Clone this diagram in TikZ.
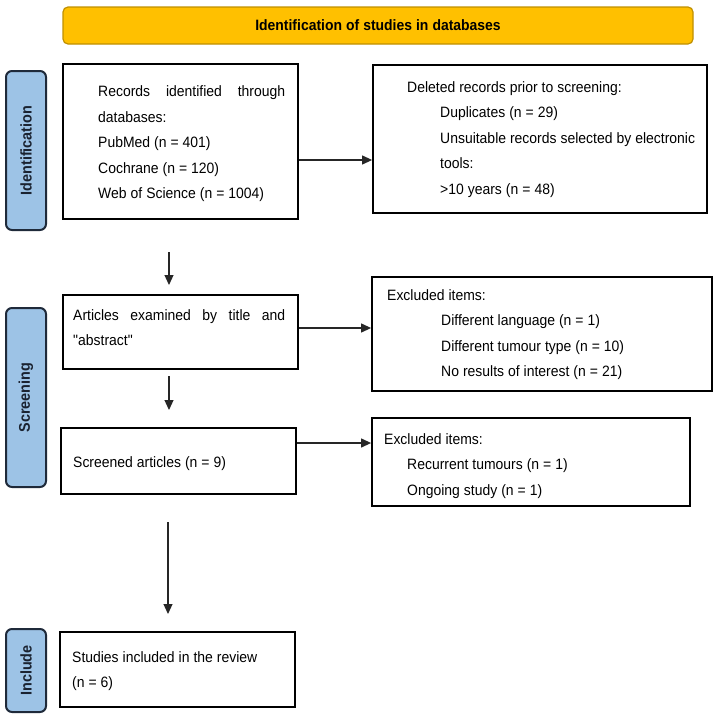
\documentclass[tikz,border=0pt]{standalone}
\usepackage{fontspec}
\setmainfont{Liberation Sans}[Ligatures=TeXOff,FakeStretch=0.93]
\usetikzlibrary{arrows.meta}
\definecolor{sideblue}{HTML}{9DC3E6}
\definecolor{sideedge}{HTML}{1F2A3A}
\definecolor{sidetext}{HTML}{1A2230}
\definecolor{banner}{HTML}{FFC000}
\definecolor{banneredge}{HTML}{C09000}
\newcommand\tsp{\spaceskip=4pt plus 1.5pt minus 0.5pt\relax}
\begin{document}
\begin{tikzpicture}[x=1pt,y=-1pt,
 box/.style={draw=black,line width=1.8pt,inner sep=0pt,fill=white},
 side/.style={draw=sideedge,fill=sideblue,line width=2pt,rounded corners=6pt,minimum width=40pt,inner sep=0pt},
 sidetxt/.style={rotate=90,inner sep=0pt,font=\fontsize{15.5}{18}\selectfont\bfseries,text=sidetext},
 tx/.style={anchor=base west,inner sep=0pt,align=left,font=\fontsize{15}{25.5}\selectfont,text width=#1},
 tx/.default=300pt,
 arr/.style={-{Triangle[length=10pt,width=9pt]},line width=1.2pt,draw=black!85}
]
\useasboundingbox (0,0) rectangle (718,720);
% banner
\node[draw=banneredge,fill=banner,line width=1.2pt,rounded corners=5pt,minimum width=630pt,minimum height=37pt,inner sep=0pt,font=\fontsize{15}{18}\selectfont\bfseries] (ban) at (378,25.5) {\tsp Identification of studies in databases};
% side labels
\node[side,minimum height=159pt] (sid) at (26,150.5) {};
\node[sidetxt] (sidt) at (sid) {Identification};
\node[side,minimum height=179pt] (sscr) at (26,397.5) {};
\node[sidetxt] (sscrt) at (sscr) {Screening};
\node[side,minimum height=83pt] (sinc) at (26,670.5) {};
\node[sidetxt] (sinct) at (sinc) {Include};
% boxes
\node[box,minimum width=235pt,minimum height=155pt] (b1) at (180.5,141.5) {};
\node[box,minimum width=334pt,minimum height=148pt] (b2) at (540,139) {};
\node[box,minimum width=235pt,minimum height=74pt] (b3) at (180.5,332) {};
\node[box,minimum width=340pt,minimum height=114pt] (b4) at (542,334) {};
\node[box,minimum width=235pt,minimum height=66pt] (b5) at (178.5,461) {};
\node[box,minimum width=318pt,minimum height=88pt] (b6) at (531,462) {};
\node[box,minimum width=235pt,minimum height=75pt] (b7) at (177.5,669.5) {};
% texts
\node[tx=200pt] (t1) at (98,96.5) {\tsp\hbox to 187pt{Records\hfill identified\hfill through}\\databases:\\PubMed (n = 401)\\Cochrane (n = 120)\\Web of Science (n = 1004)};
\node[tx=310pt] (t2) at (407,92) {\tsp Deleted records prior to screening:\\\hspace*{33pt}Duplicates (n = 29)\\\hspace*{33pt}Unsuitable records selected by electronic\\\hspace*{33pt}tools:\\\hspace*{33pt}>10 years (n = 48)};
\node[tx=220pt] (t3) at (73,320) {\tsp\hbox to 212pt{Articles\hfill examined\hfill by\hfill title\hfill and}\\"abstract"};
\node[tx=320pt] (t4) at (387,300) {\tsp Excluded items:\\\hspace*{54pt}Different language (n = 1)\\\hspace*{54pt}Different tumour type (n = 10)\\\hspace*{54pt}No results of interest (n = 21)};
\node[tx=220pt] (t5) at (73,467) {\tsp Screened articles (n = 9)};
\node[tx=300pt] (t6) at (384,444) {\tsp Excluded items:\\\hspace*{23pt}Recurrent tumours (n = 1)\\\hspace*{23pt}Ongoing study (n = 1)};
\node[tx=220pt] (t7) at (72,662) {\tsp Studies included in the review\\(n = 6)};
% horizontal arrows
\coordinate (r1) at (0,160);
\draw[arr] (b1.east |- r1) -- (b2.west |- r1);
\coordinate (r2) at (0,328);
\draw[arr] (b3.east |- r2) -- (b4.west |- r2);
\coordinate (r3) at (0,443);
\draw[arr] (b5.east |- r3) -- (b6.west |- r3);
% vertical arrows
\coordinate (d1a) at (169,252); \coordinate (d1b) at (169,285);
\draw[arr] (d1a) -- (d1b);
\coordinate (d2a) at (169,376); \coordinate (d2b) at (169,410);
\draw[arr] (d2a) -- (d2b);
\coordinate (d3a) at (168,522); \coordinate (d3b) at (168,614);
\draw[arr] (d3a) -- (d3b);
\end{tikzpicture}
\end{document}
